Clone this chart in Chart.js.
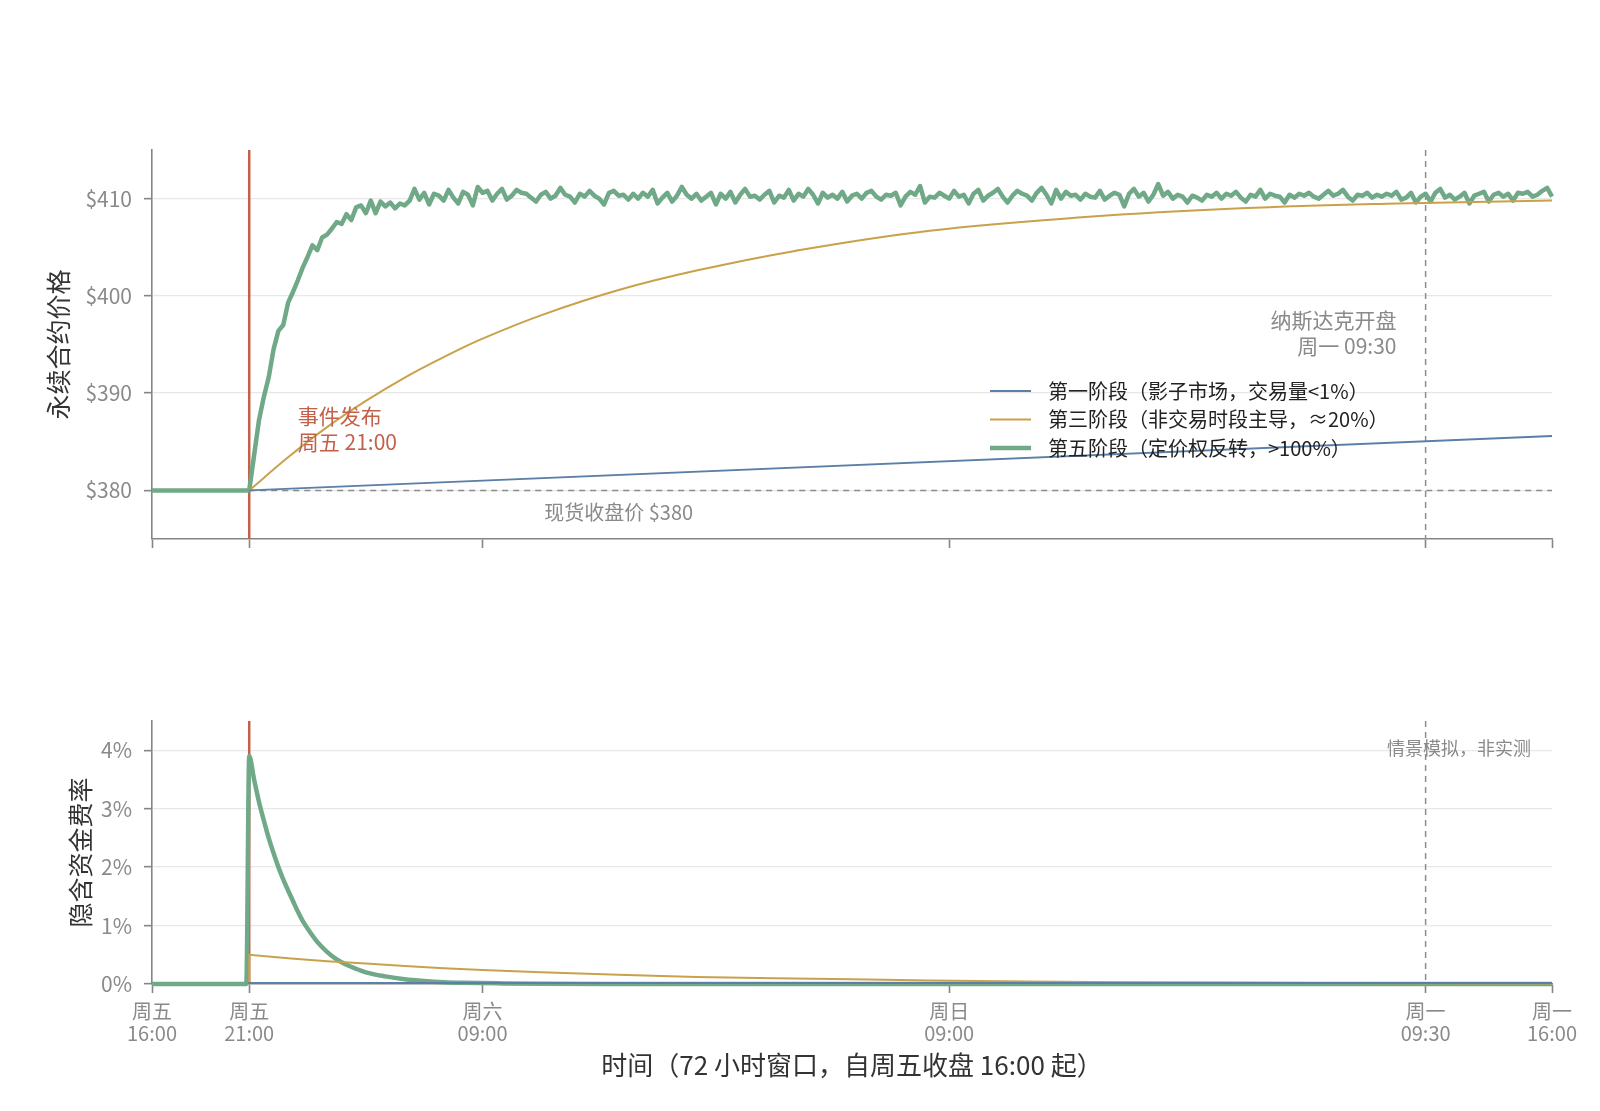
<!DOCTYPE html>
<html lang="zh">
<head>
<meta charset="utf-8">
<title>永续合约价格与隐含资金费率</title>
<script src="https://cdn.jsdelivr.net/npm/chart.js@4.4.1/dist/chart.umd.min.js"></script>
<style>
  html, body { margin: 0; padding: 0; background: #fff; }
  #wrap { position: relative; width: 1600px; height: 1111px; }
  #graph1 { position: absolute; left: 0; top: 0; }
  #graph2 { position: absolute; left: 0; top: 600px; }
</style>
</head>
<body>
<div id="wrap">
  <canvas id="graph1" width="1600" height="600"></canvas>
  <canvas id="graph2" width="1600" height="511"></canvas>
</div>
<script>

// x axis -- hours since Friday 16:00 close //
const tickHours = [0, 5, 17, 41, 65.5, 72];
const tickLabels = [['周五', '16:00'], ['周五', '21:00'], ['周六', '09:00'], ['周日', '09:00'], ['周一', '09:30'], ['周一', '16:00']];
const eventHour = 5;
const nasdaqHour = 65.5;
const spotClose = 380;

const priceTicks = [380, 390, 400, 410];
const fundingTicks = [0, 1, 2, 3, 4];

const seriesNames = ['第一阶段（影子市场，交易量<1%）', '第三阶段（非交易时段主导，≈20%）', '第五阶段（定价权反转，>100%）'];

// phase 1 -- blue //
const phase1Hours = [5, 72];
const phase1Price = [380, 385.6];
const phase1FundHours = [4.95, 5, 72];
const phase1Funding = [0, 0.015, 0.015];

// phase 3 -- gold //
const phase3Hours = [5, 7, 9, 11, 13, 15, 17, 20, 24, 28, 33, 40, 48, 56, 64, 72];
const phase3Price = [380.0, 383.4, 386.5, 389.2, 391.6, 393.7, 395.6, 398.0, 400.6, 402.6, 404.6,
                     406.7, 408.1, 409.0, 409.5, 409.8];
const phase3FundHours = [5, 5, 7, 9, 11, 13, 15, 17, 20, 24, 28, 32, 36, 40, 45, 50, 55, 60, 65, 72];
const phase3Funding = [0, 0.50, 0.44, 0.39, 0.35, 0.31, 0.27, 0.24, 0.20, 0.16, 0.12, 0.10, 0.08, 0.06,
                       0.043, 0.032, 0.024, 0.018, 0.013, 0.009];

// phase 5 -- green, price every 15 min from Fri 21:00 //
const phase5Quarter = [
  380.0, 383.6, 387.2, 389.6, 391.6, 394.5, 396.4, 397.0, 399.3, 400.4, 401.6, 402.9,
  404.0, 405.2, 404.7, 406.0, 406.3, 406.9, 407.6, 407.4, 408.4, 407.8, 409.1, 409.3,
  408.5, 409.8, 408.5, 409.7, 409.2, 409.6, 409.0, 409.5, 409.3, 409.8,
  411.0, 409.9, 410.6, 409.4, 410.5, 410.3, 409.8, 410.9, 410.1, 409.5, 410.7, 410.4,
  409.3, 411.2, 410.6, 410.8, 409.8, 410.5, 411.0, 409.9, 410.3, 410.9, 410.6, 410.5,
  410.1, 409.7, 410.4, 410.7, 410.0, 410.3, 411.1, 410.4, 410.2, 409.6, 410.5, 410.2,
  410.8, 410.3, 410.0, 409.4, 410.6, 410.8, 410.3, 410.4, 409.9, 410.5, 410.0, 410.6,
  410.2, 410.9, 409.5, 410.1, 410.6, 409.7, 410.3, 411.2, 410.4, 410.0, 410.5, 409.8,
  410.2, 410.6, 409.4, 410.5, 410.0, 410.7, 409.6, 410.4, 411.0, 410.2, 410.3, 409.9,
  410.4, 410.8, 409.6, 410.3, 410.1, 410.9, 409.8, 410.5, 410.2, 411.0, 410.4, 409.5,
  410.6, 410.1, 410.4, 410.0, 410.7, 409.7, 410.3, 410.5, 410.0, 410.6, 410.8, 410.2,
  409.9, 410.4, 410.3, 410.6, 409.3, 410.2, 410.7, 410.4, 411.3, 409.6, 410.2, 410.1,
  410.6, 410.3, 410.0, 410.8, 410.2, 410.4, 409.5, 410.5, 410.9, 409.8, 410.3, 410.6,
  411.0, 410.2, 409.6, 410.3, 410.8, 410.5, 410.3, 409.8, 410.6, 411.1, 410.4, 409.5,
  410.9, 410.0, 410.7, 410.3, 410.4, 409.9, 410.5, 410.2, 410.1, 410.8, 409.9, 410.3,
  410.6, 410.4, 409.2, 410.5, 411.0, 410.2, 410.6, 409.7, 410.4, 411.5, 410.3, 410.7,
  410.0, 410.4, 410.2, 409.6, 410.3, 410.1, 409.8, 410.4, 410.2, 410.6, 410.0, 410.5,
  410.3, 410.7, 410.1, 409.7, 410.4, 410.2, 410.9, 410.0, 410.5, 410.3, 410.2, 409.6,
  410.4, 410.1, 410.5, 410.3, 410.6, 410.2, 410.0, 410.4, 410.8, 410.3, 410.5, 410.9,
  410.2, 409.8, 410.4, 410.3, 410.6, 410.1, 410.4, 410.2, 410.5, 410.3, 410.7, 409.9,
  410.1, 410.6, 409.6, 410.2, 410.5, 409.7, 410.6, 411.0, 410.1, 410.4, 409.9, 410.2,
  410.6, 409.5, 410.3, 410.5, 410.7, 409.7, 410.4, 410.6, 410.2, 410.5, 409.8, 410.6,
  410.5, 410.7, 410.2, 410.4, 410.8, 411.1, 410.2
];
const phase5FundHours = [4.85, 5, 5.25, 5.5, 5.75, 6, 6.25, 6.5, 6.75, 7, 7.25, 7.5, 7.75, 8, 8.5, 9, 9.5,
                         10, 10.5, 11, 12, 13, 14, 15, 16, 18, 20, 24, 72];
const phase5Funding = [0, 3.90, 3.50, 3.12, 2.80, 2.50, 2.24, 2.00, 1.79, 1.60, 1.42, 1.24, 1.08, 0.95,
                       0.72, 0.55, 0.42, 0.33, 0.26, 0.20, 0.13, 0.08, 0.05, 0.03, 0.02, 0.01, 0.004, 0, 0];


const blue = '#5b7fa6';
const gold = '#c9a14a';
const green = '#6fa987';
const red = '#c4604a';
const gray = '#8a8a8a';
const spine = '#858585';
const fontFamily = "'Noto Sans CJK SC', 'Noto Sans', sans-serif";

Chart.defaults.font.family = fontFamily;
Chart.defaults.color = gray;

function points(hours, values) {
    return hours.map((h, i) => ({ x: h, y: values[i] }));
}

function line(ctx, x1, y1, x2, y2) {
    ctx.beginPath();
    ctx.moveTo(x1, y1);
    ctx.lineTo(x2, y2);
    ctx.stroke();
}

// shared x axis //
function xAxis(height, showLabels) {
    return {
        type: 'linear',
        min: 0,
        max: 72,
        afterBuildTicks: s => { s.ticks = tickHours.map(v => ({ value: v })); },
        afterFit: s => { s.height = height; },
        ticks: {
            display: showLabels,
            autoSkip: false,
            maxRotation: 0,
            padding: 7,
            font: { size: 20, lineHeight: 1.1 },
            color: gray,
            callback: (v, i) => tickLabels[i]
        },
        grid: { drawOnChartArea: false, drawTicks: true, tickLength: 9, tickColor: spine, tickWidth: 1.6 },
        border: { display: true, color: spine, width: 1.6 }
    };
}


// graph1 = perpetual price //
const priceMarks = {
    id: 'priceMarks',
    beforeDatasetsDraw(chart) {
        const { ctx, chartArea, scales: { x, y } } = chart;
        ctx.save();
        ctx.strokeStyle = '#8c8c8c';
        ctx.lineWidth = 1.5;
        ctx.setLineDash([6, 5]);
        line(ctx, x.getPixelForValue(eventHour), y.getPixelForValue(spotClose), chartArea.right, y.getPixelForValue(spotClose));
        line(ctx, x.getPixelForValue(nasdaqHour), chartArea.top, x.getPixelForValue(nasdaqHour), chartArea.bottom);
        ctx.setLineDash([]);
        ctx.strokeStyle = red;
        ctx.lineWidth = 2.5;
        line(ctx, x.getPixelForValue(eventHour), chartArea.top, x.getPixelForValue(eventHour), chartArea.bottom);
        ctx.restore();
    },
    afterDatasetsDraw(chart) {
        const { ctx, scales: { x, y } } = chart;
        ctx.save();
        ctx.textBaseline = 'middle';
        ctx.font = '21px ' + fontFamily;

        ctx.fillStyle = red;
        ctx.textAlign = 'left';
        ctx.fillText('事件发布', x.getPixelForValue(7.5), y.getPixelForValue(387.6));
        ctx.fillText('周五 21:00', x.getPixelForValue(7.5), y.getPixelForValue(387.6) + 26);

        ctx.fillStyle = gray;
        ctx.textAlign = 'right';
        ctx.fillText('纳斯达克开盘', x.getPixelForValue(64), y.getPixelForValue(397.5));
        ctx.fillText('周一 09:30', x.getPixelForValue(64), y.getPixelForValue(397.5) + 26);

        ctx.font = '20px ' + fontFamily;
        ctx.textAlign = 'center';
        ctx.fillText('现货收盘价 $380', x.getPixelForValue(24), y.getPixelForValue(spotClose) + 22);

        // legend //
        const widths = [2, 2, 4.5];
        const colors = [blue, gold, green];
        ctx.textAlign = 'left';
        ctx.fillStyle = '#222';
        for (let i = 0; i < seriesNames.length; i++) {
            const rowY = 391 + i * 28.5;
            ctx.strokeStyle = colors[i];
            ctx.lineWidth = widths[i];
            line(ctx, 990, rowY, 1031, rowY);
            ctx.fillText(seriesNames[i], 1048, rowY);
        }
        ctx.restore();
    }
};

function createGraph1() {
    new Chart(document.getElementById('graph1'), {
        type: 'line',
        data: {
            datasets: [{
                label: seriesNames[0],
                data: points(phase1Hours, phase1Price),
                borderColor: blue,
                borderWidth: 2,
                pointRadius: 0,
                clip: 8
            }, {
                label: seriesNames[1],
                data: points(phase3Hours, phase3Price),
                borderColor: gold,
                borderWidth: 2,
                pointRadius: 0,
                tension: 0.4,
                clip: 8
            }, {
                label: seriesNames[2],
                data: [{ x: 0, y: spotClose }].concat(phase5Quarter.map((v, i) => ({ x: eventHour + i * 0.25, y: v }))),
                borderColor: green,
                borderWidth: 4.5,
                pointRadius: 0,
                borderJoinStyle: 'round',
                clip: 8
            }]
        },
        options: {
            responsive: false,
            animation: false,
            layout: { padding: { top: 150, right: 48, left: 0, bottom: 0 } },
            plugins: {
                legend: { display: false },
                tooltip: { enabled: false }
            },
            scales: {
                x: xAxis(61, false),
                y: {
                    min: 375,
                    max: 415,
                    afterBuildTicks: s => { s.ticks = priceTicks.map(v => ({ value: v })); },
                    afterFit: s => { s.width = 152; },
                    ticks: { padding: 12, font: { size: 21 }, color: gray, callback: v => '$' + v },
                    grid: { color: '#e8e8e8', lineWidth: 1.3, tickColor: spine, tickLength: 8, tickWidth: 1.6 },
                    border: { display: true, color: spine, width: 1.6 },
                    title: { display: true, text: '永续合约价格', color: '#333', font: { size: 25 }, padding: { top: 43, bottom: 0 } }
                }
            }
        },
        plugins: [priceMarks]
    });
}


// graph2 = implied funding rate //
const fundingMarks = {
    id: 'fundingMarks',
    beforeDatasetsDraw(chart) {
        const { ctx, chartArea, scales: { x } } = chart;
        ctx.save();
        ctx.strokeStyle = '#8c8c8c';
        ctx.lineWidth = 1.5;
        ctx.setLineDash([6, 5]);
        line(ctx, x.getPixelForValue(nasdaqHour), chartArea.top, x.getPixelForValue(nasdaqHour), chartArea.bottom);
        ctx.setLineDash([]);
        ctx.strokeStyle = red;
        ctx.lineWidth = 2.5;
        line(ctx, x.getPixelForValue(eventHour), chartArea.top, x.getPixelForValue(eventHour), chartArea.bottom);
        ctx.restore();
    },
    afterDatasetsDraw(chart) {
        const { ctx, chartArea } = chart;
        ctx.save();
        ctx.font = '18px ' + fontFamily;
        ctx.fillStyle = gray;
        ctx.textAlign = 'right';
        ctx.textBaseline = 'middle';
        ctx.fillText('情景模拟，非实测', chartArea.right - 21, chartArea.top + 27);
        ctx.restore();
    }
};

function createGraph2() {
    new Chart(document.getElementById('graph2'), {
        type: 'line',
        data: {
            datasets: [{
                label: seriesNames[0],
                data: points(phase1FundHours, phase1Funding),
                borderColor: blue,
                borderWidth: 2,
                pointRadius: 0,
                clip: 8
            }, {
                label: seriesNames[1],
                data: points(phase3FundHours, phase3Funding),
                borderColor: gold,
                borderWidth: 2,
                pointRadius: 0,
                clip: 8
            }, {
                label: seriesNames[2],
                data: [{ x: 0, y: 0 }].concat(points(phase5FundHours, phase5Funding)),
                borderColor: green,
                borderWidth: 4.5,
                pointRadius: 0,
                cubicInterpolationMode: 'monotone',
                clip: 8
            }]
        },
        options: {
            responsive: false,
            animation: false,
            layout: { padding: { top: 121, right: 48, left: 0, bottom: 0 } },
            plugins: {
                legend: { display: false },
                tooltip: { enabled: false }
            },
            scales: {
                x: Object.assign(xAxis(127, true), {
                    title: { display: true, text: '时间（72 小时窗口，自周五收盘 16:00 起）', color: '#333', font: { size: 26 }, padding: { top: 0, bottom: 30 } }
                }),
                y: {
                    min: 0,
                    max: 4.5,
                    afterBuildTicks: s => { s.ticks = fundingTicks.map(v => ({ value: v })); },
                    afterFit: s => { s.width = 152; },
                    ticks: { padding: 12, font: { size: 21 }, color: gray, callback: v => v + '%' },
                    grid: { color: '#e8e8e8', lineWidth: 1.3, tickColor: spine, tickLength: 8, tickWidth: 1.6 },
                    border: { display: true, color: spine, width: 1.6 },
                    title: { display: true, text: '隐含资金费率', color: '#333', font: { size: 25 }, padding: { top: 65, bottom: 0 } }
                }
            }
        },
        plugins: [fundingMarks]
    });
}

createGraph1();
createGraph2();
</script>
</body>
</html>
